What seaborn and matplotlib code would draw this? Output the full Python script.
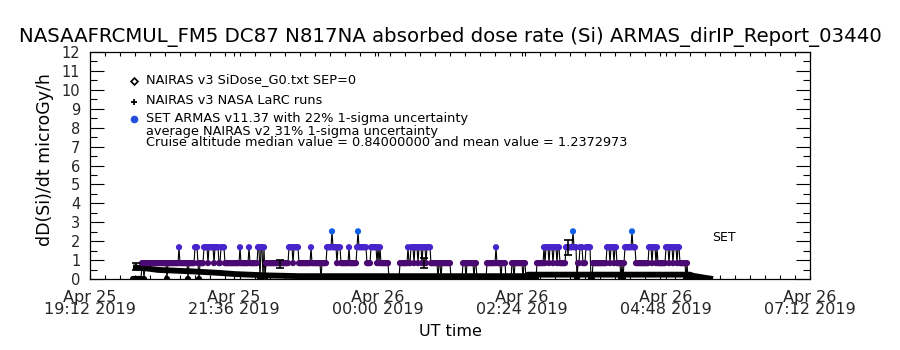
import numpy as np
import pandas as pd
import matplotlib
matplotlib.use("Agg")
import matplotlib.pyplot as plt
import matplotlib.dates as mdates
from matplotlib.ticker import FixedLocator, MultipleLocator
import seaborn as sns

sns.set_theme(style="white")
plt.rcParams['font.family'] = ['DejaVu Sans']

# ---------------- data ----------------
start_time = pd.Timestamp("2019-04-25 19:12")

# ARMAS (SET) 1-minute dose rates, quantised levels, as run lengths
armas_levels = [0.0, 0.84, 1.68, 2.52]
armas_first_minute = 43
armas_run_codes = [0, 1, 0, 1, 0, 1, 2, 1, 0, 1, 2, 1, 0, 1, 2, 1, 2, 1, 2, 1,
                   2, 1, 2, 1, 2, 1, 2, 0, 2, 0, 2, 0, 1, 2, 1, 2, 1, 2, 1, 0,
                   1, 2, 3, 2, 1, 2, 1, 2, 1, 2, 3, 2, 1, 2, 1, 2, 1, 2, 1, 0,
                   1, 2, 1, 2, 1, 2, 1, 2, 1, 2, 1, 2, 1, 0, 1, 0, 1, 0, 1, 0,
                   1, 0, 1, 0, 1, 2, 1, 0, 1, 0, 1, 0, 1, 0, 1, 0, 1, 2, 1, 2,
                   1, 2, 1, 2, 1, 2, 1, 2, 3, 2, 0, 1, 2, 1, 2, 0, 1, 2, 1, 2,
                   1, 2, 1, 0, 1, 0, 1, 2, 3, 2, 1, 2, 1, 2, 1, 2, 1, 2, 1, 2,
                   1, 2, 1, 2, 1, 0, 1, 0]
armas_run_lengths = [9, 2, 1, 22, 1, 11, 1, 8, 1, 6, 3, 1, 1, 4, 4, 1, 5, 1, 4, 2,
                     4, 15, 1, 8, 1, 8, 2, 1, 2, 1, 1, 1, 23, 4, 1, 5, 12, 1, 9, 1,
                     5, 5, 1, 4, 1, 3, 8, 1, 7, 1, 1, 8, 4, 6, 1, 1, 1, 1, 8, 11,
                     8, 1, 2, 3, 1, 3, 1, 3, 1, 3, 1, 4, 7, 1, 2, 1, 9, 12, 3, 1,
                     7, 1, 2, 10, 9, 1, 4, 1, 4, 6, 2, 1, 8, 1, 2, 11, 7, 1, 1, 3,
                     1, 3, 1, 3, 1, 2, 6, 7, 1, 3, 1, 2, 3, 3, 5, 2, 14, 3, 1, 3,
                     1, 2, 4, 1, 1, 1, 1, 7, 1, 3, 13, 3, 1, 3, 1, 1, 8, 3, 1, 3,
                     1, 3, 1, 2, 6, 1, 1, 12]

# NAIRAS v3 model (minutes after 19:12, microGy/h)
nairas_minutes = [43, 58, 68, 103, 130, 145, 177, 210, 436, 438, 600, 603, 613, 623]
nairas_dose = [0.62, 0.55, 0.48, 0.40, 0.32, 0.26, 0.19, 0.15, 0.15, 0.23, 0.23, 0.17, 0.08, 0.0]

# average NAIRAS v2 31% 1-sigma uncertainty bars
err_minutes = [46, 190, 334, 478]
err_dose = [0.67, 0.80, 0.85, 1.67]
err_sigma = [0.20, 0.22, 0.25, 0.39]

tick_minutes = [0, 144, 288, 432, 576, 720]
tick_labels = ["Apr 25\n19:12 2019", "Apr 25\n21:36 2019", "Apr 26\n00:00 2019",
               "Apr 26\n02:24 2019", "Apr 26\n04:48 2019", "Apr 26\n07:12 2019"]

level_colors = {0.0: "#000000", 0.84: "#4b0a72", 1.68: "#4824cc", 2.52: "#0f5fe8"}

# ---------------- build frames ----------------
codes = np.repeat(armas_run_codes, armas_run_lengths)
armas_min = armas_first_minute + np.arange(len(codes))
armas = pd.DataFrame({
    "time": start_time + pd.to_timedelta(armas_min, unit="min"),
    "dose": [armas_levels[c] for c in codes],
})
nairas = pd.DataFrame({
    "time": start_time + pd.to_timedelta(nairas_minutes, unit="min"),
    "dose": nairas_dose,
})
err_times = start_time + pd.to_timedelta(err_minutes, unit="min")

# ---------------- figure ----------------
W, H = 900, 350
fig = plt.figure(figsize=(9, 3.5), dpi=100)
ax = fig.add_axes([90 / W, 1 - 279 / H, 720 / W, 227 / H])

sns.lineplot(data=nairas, x="time", y="dose", ax=ax, color="black", lw=4.2,
             estimator=None, sort=False, zorder=2, solid_capstyle="butt")
sns.lineplot(data=armas, x="time", y="dose", ax=ax, color="black", lw=0.8,
             estimator=None, sort=False, zorder=3)
sns.scatterplot(data=armas, x="time", y="dose", hue="dose", palette=level_colors,
                ax=ax, s=20, marker="o", linewidth=0, legend=False, zorder=4)
ax.errorbar(err_times, err_dose, yerr=err_sigma, fmt="none", ecolor="black",
            elinewidth=1.2, capsize=3, capthick=1.2, zorder=5)

x0 = start_time
x1 = start_time + pd.Timedelta(minutes=720)
ax.set_xlim(x0, x1)
ax.set_ylim(0, 12)

major_t = [mdates.date2num(start_time + pd.Timedelta(minutes=m)) for m in tick_minutes]
minor_t = [mdates.date2num(start_time + pd.Timedelta(minutes=m)) for m in range(0, 721, 15)]
ax.xaxis.set_major_locator(FixedLocator(major_t))
ax.xaxis.set_minor_locator(FixedLocator(minor_t))
ax.set_xticklabels(tick_labels)
ax.yaxis.set_major_locator(MultipleLocator(1))
ax.yaxis.set_minor_locator(MultipleLocator(0.5))

ax.tick_params(axis="x", which="both", direction="in", top=True, bottom=True,
               length=3, width=0.8, color="black", labelsize=11.5, pad=8)
ax.tick_params(axis="y", which="major", direction="in", left=True, right=True,
               length=10, width=0.8, color="black", labelsize=10.5, pad=7)
ax.tick_params(axis="y", which="minor", direction="in", left=True, right=True,
               length=5, width=0.8, color="black")
for lab in ax.get_xticklabels():
    lab.set_linespacing(0.78)
for sp in ax.spines.values():
    sp.set_color("black")
    sp.set_linewidth(0.9)
ax.set_xlabel("")
ax.set_ylabel("")
ax.grid(False)

def fx(px):
    return px / W

def fy(py):
    return 1 - py / H

fig.text(0.5, fy(37), "NASAAFRCMUL_FM5 DC87 N817NA absorbed dose rate (Si) ARMAS_dirIP_Report_03440",
         ha="center", va="center", fontsize=14.2, color="black")
fig.text(fx(45), fy(160), "dD(Si)/dt microGy/h", rotation=90, ha="center", va="center",
         fontsize=12.5, color="black")
fig.text(0.5, fy(331), "UT time", ha="center", va="center", fontsize=11.5, color="black")

leg_fs = 9.3
legend_rows = [
    (80, "NAIRAS v3 SiDose_G0.txt SEP=0"),
    (100, "NAIRAS v3 NASA LaRC runs"),
    (118, "SET ARMAS v11.37 with 22% 1-sigma uncertainty"),
    (131, "average NAIRAS v2 31% 1-sigma uncertainty"),
    (142, "Cruise altitude median value = 0.84000000 and mean value = 1.2372973"),
]
for py, txt in legend_rows:
    fig.text(fx(146), fy(py), txt, ha="left", va="center", fontsize=leg_fs, color="black")

fig.lines.append(plt.Line2D([fx(134)], [fy(81)], marker="D", ms=3.5, mfc="white",
                            mec="black", mew=1.2, transform=fig.transFigure, ls="none"))
fig.lines.append(plt.Line2D([fx(134)], [fy(102)], marker="+", ms=5, mec="black",
                            mew=1.3, transform=fig.transFigure, ls="none"))
fig.lines.append(plt.Line2D([fx(134)], [fy(119)], marker="o", ms=4.5, mfc="#2450dc",
                            mec="#2450dc", transform=fig.transFigure, ls="none"))

fig.text(fx(712), fy(237.5), "SET", ha="left", va="center", fontsize=9, color="black")

fig.savefig("out.png", dpi=100, facecolor="white")
